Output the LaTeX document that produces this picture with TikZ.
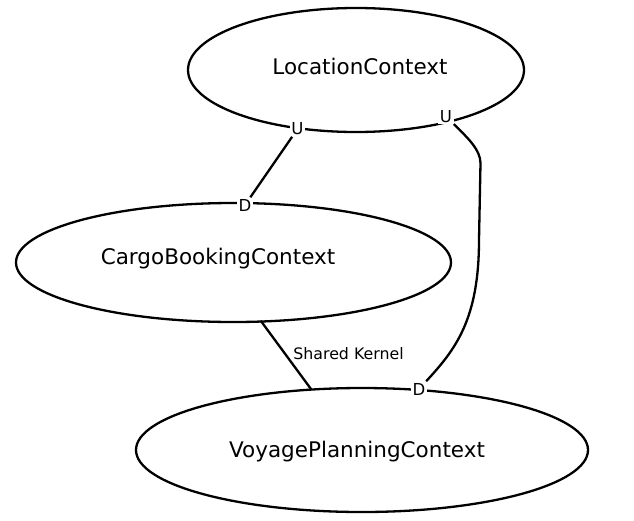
\documentclass[tikz,border=0pt]{standalone}
\usepackage{fontspec}
\setmainfont{DejaVu Sans}
\usetikzlibrary{shapes.geometric}

\tikzset{
  context/.style={draw, ellipse, line width=2.3pt, inner sep=0pt},
  ctxname/.style={font=\fontsize{21.5}{25}\selectfont},
  role/.style={fill=white, inner sep=1.5pt, font=\fontsize{16.5}{19}\selectfont},
  rel/.style={line width=2.3pt},
}

\begin{document}
\begin{tikzpicture}[x=1pt, y=-1pt]
    \useasboundingbox (0,0) rectangle (634,520);

    % bounded contexts
    \node[context, minimum width=336pt, minimum height=124pt] (loc) at (356,70) {};
    \node[context, minimum width=435pt, minimum height=119pt] (cargo) at (233.5,262.5) {};
    \node[context, minimum width=452pt, minimum height=124pt] (voyage) at (362,450) {};

    \node[ctxname] (loc-name) at (360,66) {LocationContext};
    \node[ctxname] (cargo-name) at (218,259) {CargoBookingContext};
    \node[ctxname] (voyage-name) at (357,452) {VoyagePlanningContext};

    % upstream / downstream markers
    \node[role] (u1) at (297.5,129) {U};
    \node[role] (u2) at (446,116.5) {U};
    \node[role] (d1) at (245,205) {D};
    \node[role] (d2) at (419,389) {D};

    % relations
    \draw[rel] (u1) -- (d1);
    \coordinate (bend) at (480.5,163);
    \coordinate (down) at (479,240);
    \draw[rel] (u2) .. controls (470,140) and (480,150) .. (bend) -- (down) .. controls (479,320) and (455,350) .. (d2);

    \coordinate (sk-top) at (260.7,320.7);
    \coordinate (sk-bot) at (311.7,390);
    \draw[rel] (sk-top) -- (sk-bot);
    \node[font=\fontsize{15.8}{18}\selectfont] (sk) at (348.5,354) {Shared Kernel};
\end{tikzpicture}
\end{document}
